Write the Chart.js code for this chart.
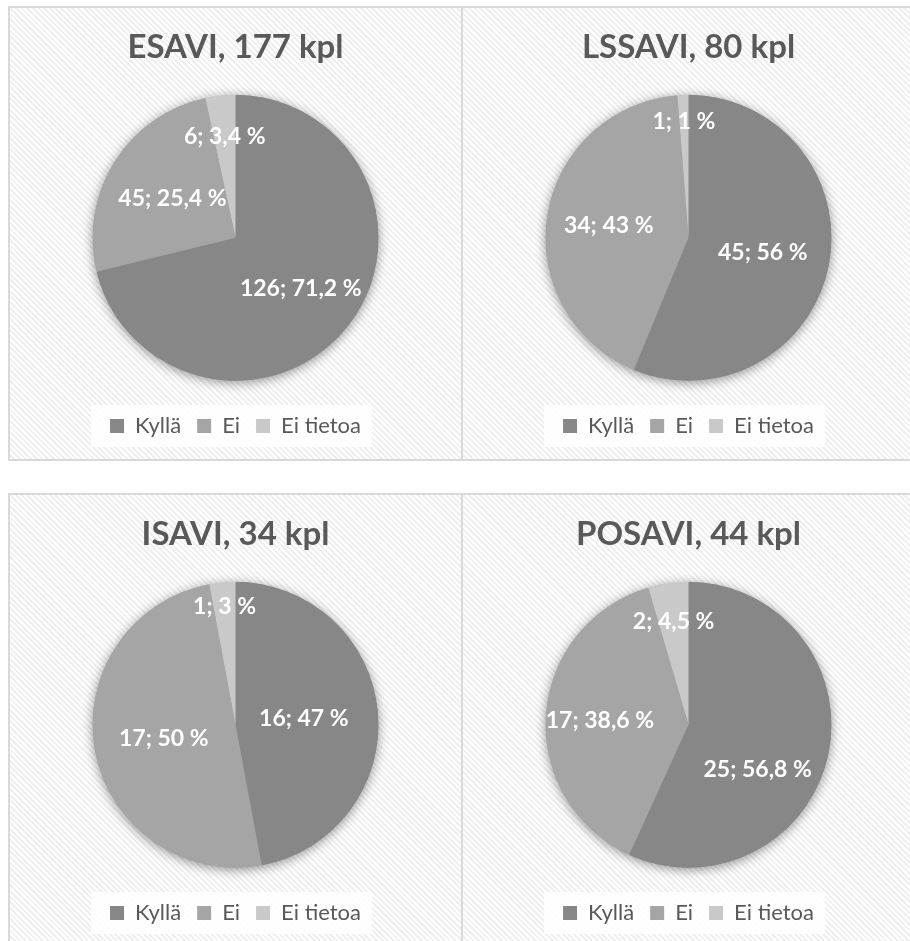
<!DOCTYPE html>
<html>
<head>
<meta charset="utf-8">
<script src="https://cdn.jsdelivr.net/npm/chart.js@4/dist/chart.umd.min.js"></script>
<style>
  html, body { margin: 0; padding: 0; background: #fff; overflow: hidden; }
  body { width: 910px; height: 941px; position: relative; }
  .panel {
    position: absolute;
    width: 455px; height: 455px;
    box-sizing: border-box;
    border: 2px solid #d9d9d9;
    background: repeating-linear-gradient(45deg, #ffffff 0px, #ffffff 2px, #efefef 2px, #efefef 4px);
  }
  .panel canvas { display: block; }
</style>
</head>
<body>
<div class="panel" style="left:8px; top:6px;"><canvas id="c1" width="451" height="451"></canvas></div>
<div class="panel" style="left:461px; top:6px;"><canvas id="c2" width="451" height="451"></canvas></div>
<div class="panel" style="left:8px; top:493px;"><canvas id="c3" width="451" height="451"></canvas></div>
<div class="panel" style="left:461px; top:493px;"><canvas id="c4" width="451" height="451"></canvas></div>
<script>
// data
const categories = ['Kyllä', 'Ei', 'Ei tietoa'];
const titles = ['ESAVI, 177 kpl', 'LSSAVI, 80 kpl', 'ISAVI, 34 kpl', 'POSAVI, 44 kpl'];
const esaviValues = [126, 45, 6];
const lssaviValues = [45, 34, 1];
const isaviValues = [16, 17, 1];
const posaviValues = [25, 17, 2];
const pctDecimals = [1, 0, 0, 1];

const colors = ['#878787', '#a5a5a5', '#c9c9c9'];

// where the value labels sit: [fraction of radius, fraction through the slice]
const labelSpots = [
    [[0.58, 0.5], [0.52, 0.5], [0.71, 0.5]],
    [[0.53, 0.5], [0.565, 0.5], [0.81, 0.5]],
    [[0.48, 0.5], [0.51, 0.5], [0.83, 0.5]],
    [[0.575, 0.6], [0.62, 0.49], [0.73, 0.5]]
];

const pieShadow = {
    id: 'pieShadow',
    beforeDatasetsDraw(chart) {
        const arc = chart.getDatasetMeta(0).data[0];
        if (!arc) return;
        const ctx = chart.ctx;
        ctx.save();
        ctx.shadowColor = 'rgba(0,0,0,0.45)';
        ctx.shadowBlur = 12;
        ctx.shadowOffsetY = 2;
        ctx.beginPath();
        ctx.arc(arc.x, arc.y, arc.outerRadius - 0.5, 0, Math.PI * 2);
        ctx.fillStyle = '#888';
        ctx.fill();
        ctx.restore();
    }
};

const legendBack = {
    id: 'legendBack',
    beforeDraw(chart) {
        const boxes = chart.legend && chart.legend.legendHitBoxes;
        if (!boxes || !boxes.length) return;
        const left = Math.min(...boxes.map(b => b.left));
        const right = Math.max(...boxes.map(b => b.left + b.width));
        const mid = boxes[0].top + boxes[0].height / 2;
        chart.ctx.save();
        chart.ctx.fillStyle = 'rgba(255,255,255,0.85)';
        chart.ctx.fillRect(left - 19, mid - 21, right - left + 30, 42);
        chart.ctx.restore();
    }
};

const sliceLabels = {
    id: 'sliceLabels',
    afterDatasetsDraw(chart, args, opts) {
        const ctx = chart.ctx;
        const values = chart.data.datasets[0].data;
        const total = values.reduce((a, b) => a + b, 0);
        chart.getDatasetMeta(0).data.forEach((arc, i) => {
            const p = arc.getProps(['x', 'y', 'startAngle', 'endAngle', 'outerRadius'], true);
            const spot = opts.spots[i];
            const a = p.startAngle + (p.endAngle - p.startAngle) * spot[1];
            const r = p.outerRadius * spot[0];
            const pct = (values[i] / total * 100).toFixed(opts.decimals).replace('.', ',');
            ctx.save();
            ctx.font = 'bold 23px Lato';
            ctx.fillStyle = '#ffffff';
            ctx.textAlign = 'center';
            ctx.textBaseline = 'middle';
            ctx.fillText(values[i] + '; ' + pct + ' %', p.x + Math.cos(a) * r, p.y + Math.sin(a) * r);
            ctx.restore();
        });
    }
};

function makePie(id, title, values, idx) {
    return new Chart(document.getElementById(id), {
        type: 'pie',
        data: {
            labels: categories,
            datasets: [{
                data: values,
                backgroundColor: colors,
                borderWidth: 0,
                radius: 143
            }]
        },
        options: {
            responsive: false,
            animation: false,
            events: [],
            layout: { padding: { top: 0, bottom: 12, left: 0, right: 0 } },
            plugins: {
                title: {
                    display: true,
                    text: title,
                    color: '#595959',
                    font: { family: 'Lato', size: 33, weight: 'bold' },
                    padding: { top: 20, bottom: 9 }
                },
                legend: {
                    position: 'bottom',
                    labels: {
                        color: '#595959',
                        font: { family: 'Lato', size: 22 },
                        boxWidth: 14,
                        boxHeight: 14,
                        padding: 16
                    }
                },
                tooltip: { enabled: false },
                sliceLabels: { spots: labelSpots[idx], decimals: pctDecimals[idx] }
            }
        },
        plugins: [legendBack, pieShadow, sliceLabels]
    });
}

makePie('c1', titles[0], esaviValues, 0);
makePie('c2', titles[1], lssaviValues, 1);
makePie('c3', titles[2], isaviValues, 2);
makePie('c4', titles[3], posaviValues, 3);
</script>
</body>
</html>
